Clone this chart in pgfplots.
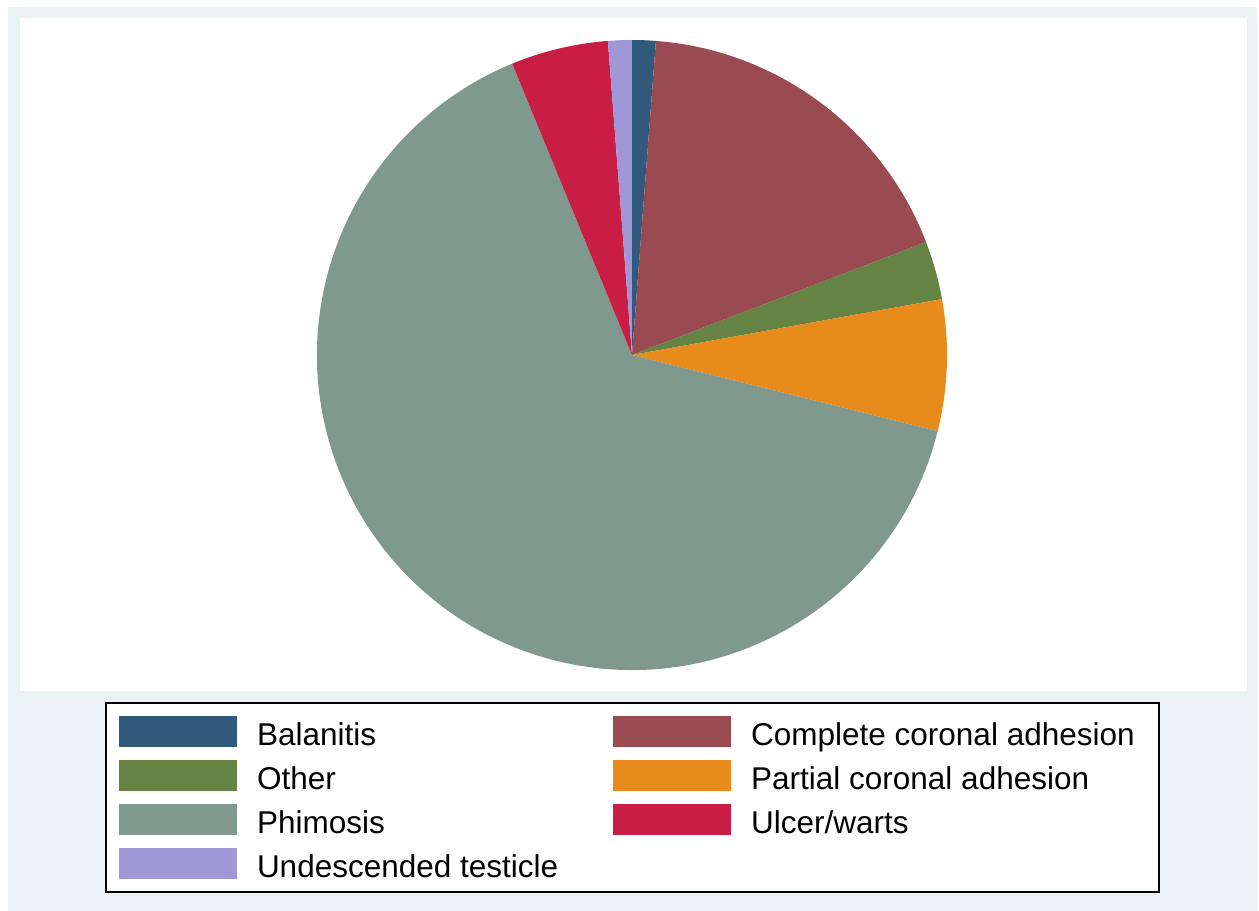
\documentclass[border=0pt]{standalone}
\usepackage{fontspec}
\setmainfont{Liberation Sans}
\usepackage{pgfplots}
\usepackage{pgfplotstable}
\pgfplotsset{compat=1.18}

% one drawing unit
\newlength\px
\setlength\px{0.4pt}

\definecolor{cBal}{RGB}{49,89,123}
\definecolor{cCom}{RGB}{154,74,81}
\definecolor{cOth}{RGB}{101,131,67}
\definecolor{cPar}{RGB}{230,139,28}
\definecolor{cPhi}{RGB}{127,153,142}
\definecolor{cUlc}{RGB}{200,30,70}
\definecolor{cUnd}{RGB}{160,151,215}
\definecolor{band}{RGB}{234,242,243}

% share of cases (percent) for each indication
\pgfplotstableread[col sep=comma]{
cat,share,col
Balanitis,1.21,cBal
Complete coronal adhesion,17.95,cCom
Other,3.00,cOth
Partial coronal adhesion,6.73,cPar
Phimosis,64.90,cPhi
Ulcer/warts,4.99,cUlc
Undescended testicle,1.21,cUnd
}\piedata

\pgfplotsset{
  swatch/.style={legend image code/.code={%
      \fill[##1] (0pt,-15.5\px) rectangle (118\px,15.5\px);}},
}

\begin{document}
\begin{tikzpicture}
\begin{axis}[
  scale only axis, width=1259\px, height=911\px,
  xmin=0, xmax=1259, ymin=0, ymax=911, y dir=reverse,
  hide axis, clip=false,
  legend columns=2, legend cell align=left,
  legend style={at={(axis cs:119,714)}, anchor=north west,
    draw=none, fill=none, inner sep=0pt, outer sep=0pt,
    font=\fontsize{12.6pt}{15pt}\selectfont,
    nodes={inner sep=0pt, text height=31\px, text depth=4\px},
    row sep=9\px,
    /tikz/every odd column/.append style={column sep=20\px},
    /tikz/every even column/.append style={column sep=55\px}},
]
  % backgrounds
  \fill[white] (axis cs:0,0) rectangle (axis cs:1259,911);
  \fill[band] (axis cs:8,7) rectangle (axis cs:1257,911);
  \fill[white] (axis cs:20,18) rectangle (axis cs:1247,691);
  % legend frame
  \fill[white] (axis cs:106,703) rectangle (axis cs:1159,892);
  \draw[black, line width=1.5\px] (axis cs:106,703) rectangle (axis cs:1159,892);

  % slices, clockwise from twelve o'clock
  \pgfplotstablegetrowsof{\piedata}
  \pgfmathtruncatemacro\lastrow{\pgfplotsretval-1}
  \def\cumshare{0}
  \pgfplotsforeachungrouped \i in {0,...,\lastrow}{%
    \pgfplotstablegetelem{\i}{share}\of\piedata
    \let\sliceVal\pgfplotsretval
    \pgfplotstablegetelem{\i}{col}\of\piedata
    \let\sliceCol\pgfplotsretval
    \pgfmathsetmacro\angA{90-3.6*\cumshare}
    \pgfmathsetmacro\angB{90-3.6*(\cumshare+\sliceVal)}
    \edef\temp{\noexpand\fill[\sliceCol] (axis cs:632,355) -- ++(\angA:315\px)
      arc[start angle=\angA, end angle=\angB, radius=315\px] -- cycle;}%
    \temp
    \pgfmathsetmacro\cumshare{\cumshare+\sliceVal}
    \edef\temp{\noexpand\addlegendimage{swatch, fill=\sliceCol, draw=none}}%
    \temp
    \pgfplotstablegetelem{\i}{cat}\of\piedata
    \addlegendentryexpanded{\pgfplotsretval}
  }
\end{axis}
\end{tikzpicture}
\end{document}
